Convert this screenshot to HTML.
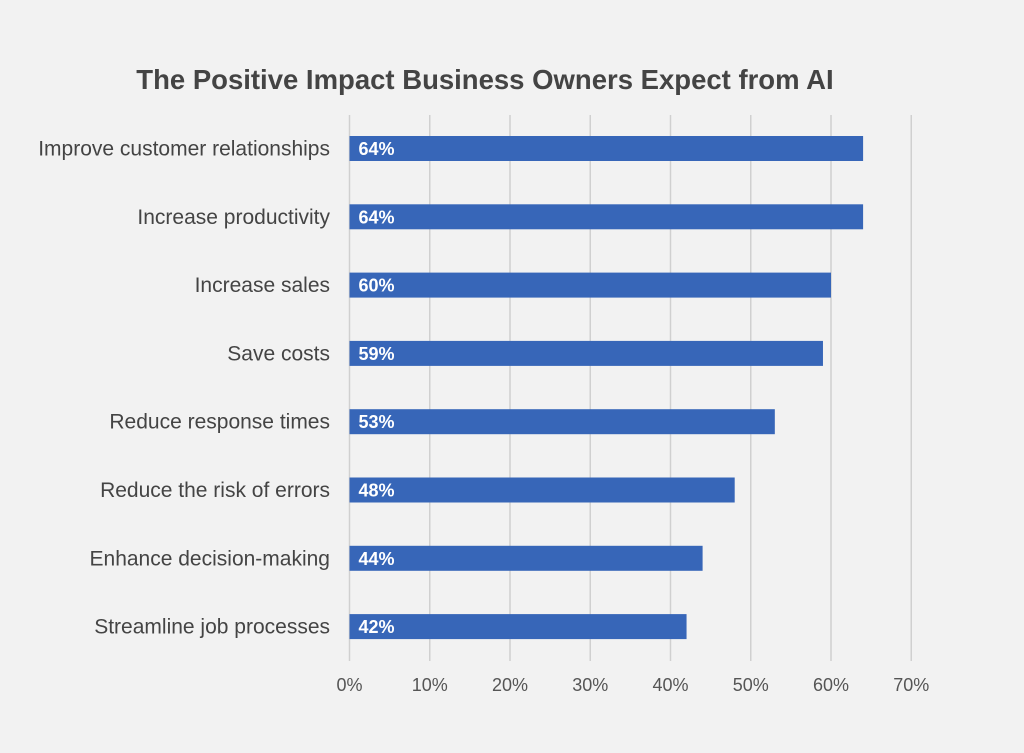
<!DOCTYPE html>
<html><head><meta charset="utf-8"><style>
body{margin:0;background:#f2f2f2;}
svg{display:block;font-family:"Liberation Sans",Arial,sans-serif;}
</style></head><body>
<svg id="chart" width="1024" height="753" viewBox="0 0 1024 753">
<rect width="1024" height="753" fill="#f2f2f2"/>
<text x="485" y="89" text-anchor="middle" font-size="27.5" font-weight="bold" fill="#444">The Positive Impact Business Owners Expect from AI</text>
<g id="grid"></g><g id="bars"></g><g id="labels"></g>
</svg>
<script>
const categories=["Improve customer relationships","Increase productivity","Increase sales","Save costs","Reduce response times","Reduce the risk of errors","Enhance decision-making","Streamline job processes"];
const values=[64,64,60,59,53,48,44,42];
const ticks=[0,10,20,30,40,50,60,70];
const tickLabels=["0%","10%","20%","30%","40%","50%","60%","70%"];
const NS="http://www.w3.org/2000/svg";
const x0=349.5,pxPer=80.25,y0=148.5,step=68.3,bh=25;
const xs=v=>x0+v*pxPer/10;
const ys=i=>y0+i*step;
function mk(t,a,p){const e=document.createElementNS(NS,t);for(const k in a)e.setAttribute(k,a[k]);p.appendChild(e);return e;}
const g=document.getElementById('grid'),b=document.getElementById('bars'),l=document.getElementById('labels');
ticks.forEach((t,i)=>{
 const ln=mk('line',{x1:xs(t),x2:xs(t),y1:115,y2:661,stroke:'#d0d0d0','stroke-width':1.5},g);
 
 
 const tx=mk('text',{x:xs(t),y:691,'text-anchor':'middle','font-size':18,fill:'#555'},g);
 tx.textContent=tickLabels[i];
 
 
});
categories.forEach((c,i)=>{
 const r=mk('rect',{x:x0,y:ys(i)-bh/2,width:xs(values[i])-x0,height:bh,fill:'#3766b8'},b);
 
 
 const v=mk('text',{x:x0+9,y:ys(i)+6.5,'font-size':18,'font-weight':'bold',fill:'#fff'},b);
 v.textContent=values[i]+'%';
 
 
 const t=mk('text',{x:330,y:ys(i)+7,'text-anchor':'end','font-size':21,fill:'#444'},l);
 t.textContent=c;
 
 
});
</script>
</body></html>
